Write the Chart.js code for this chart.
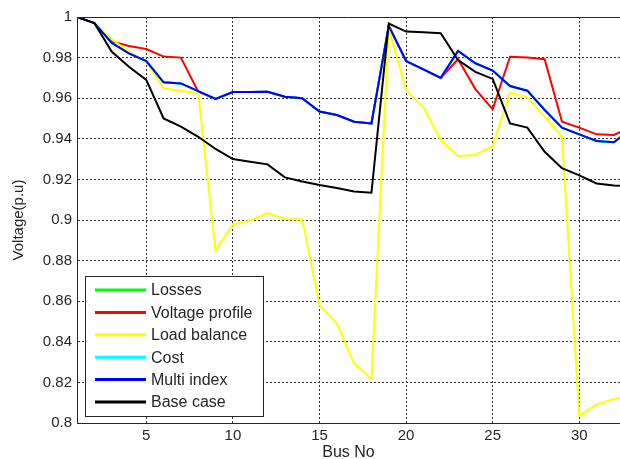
<!DOCTYPE html>
<html>
<head>
<meta charset="utf-8">
<script src="https://cdn.jsdelivr.net/npm/chart.js@4.4.1/dist/chart.umd.min.js"></script>
<style>
    html, body { margin: 0; padding: 0; background: #fff; overflow: hidden; }
    #wrap { width: 620px; height: 459px; position: relative; }
</style>
</head>
<body>
<div id="wrap"><canvas id="chart" width="620" height="459"></canvas></div>
<script>
// 母线编号 (33 bus system, last bus is cut at the right edge)
var buses = [1, 2, 3, 4, 5, 6, 7, 8, 9, 10, 11, 12, 13, 14, 15, 16, 17,
    18, 19, 20, 21, 22, 23, 24, 25, 26, 27, 28, 29, 30, 31, 32, 33];

// 各方案电压 (p.u)
var losses = [1.000, 0.997, 0.9873, 0.9821, 0.9783, 0.9678, 0.9673, 0.9635, 0.9596, 0.963, 0.963,
    0.9632, 0.9607, 0.960, 0.9534, 0.9517, 0.9484, 0.9476, 0.9956, 0.9783, 0.9742, 0.970,
    0.9833, 0.9772, 0.9736, 0.966, 0.9637, 0.9542, 0.9455, 0.9422, 0.9389, 0.9383, 0.945];
var voltageProfile = [1.000, 0.997, 0.988, 0.9857, 0.9842, 0.9805, 0.980, 0.9632, 0.9596, 0.963, 0.963,
    0.9632, 0.9607, 0.960, 0.9534, 0.9517, 0.9484, 0.9476, 0.9956, 0.9783, 0.9742, 0.970,
    0.9792, 0.9645, 0.9545, 0.9804, 0.980, 0.9792, 0.9484, 0.9455, 0.9422, 0.9419, 0.946];
var loadBalance = [1.000, 0.997, 0.989, 0.983, 0.978, 0.9649, 0.9637, 0.9624, 0.8849, 0.8979, 0.8997,
    0.9034, 0.9005, 0.9003, 0.8581, 0.8491, 0.8294, 0.8217, 0.9945, 0.964, 0.9555, 0.9394,
    0.9315, 0.932, 0.9365, 0.9627, 0.9603, 0.9509, 0.941, 0.8035, 0.8092, 0.8118, 0.8135];
var cost = [1.000, 0.997, 0.9873, 0.9821, 0.9783, 0.9678, 0.9673, 0.9635, 0.9596, 0.963, 0.963,
    0.9632, 0.9607, 0.960, 0.9534, 0.9517, 0.9484, 0.9476, 0.9956, 0.9783, 0.9742, 0.970,
    0.9833, 0.9772, 0.9736, 0.966, 0.9637, 0.9542, 0.9455, 0.9422, 0.9389, 0.9383, 0.945];
var multiIndex = [1.000, 0.997, 0.9873, 0.9821, 0.9783, 0.9678, 0.9673, 0.9635, 0.9596, 0.963, 0.963,
    0.9632, 0.9607, 0.960, 0.9534, 0.9517, 0.9484, 0.9476, 0.9956, 0.9783, 0.9742, 0.970,
    0.9833, 0.9772, 0.9736, 0.966, 0.9637, 0.9542, 0.9455, 0.9422, 0.9389, 0.9383, 0.945];
var baseCase = [1.000, 0.997, 0.983, 0.9755, 0.969, 0.950, 0.946, 0.941, 0.935, 0.930, 0.9287,
    0.9274, 0.921, 0.919, 0.9172, 0.9158, 0.914, 0.9134, 0.9968, 0.9928, 0.9925, 0.992,
    0.9788, 0.973, 0.9695, 0.9476, 0.9455, 0.9336, 0.9255, 0.922, 0.918, 0.917, 0.9165];

// 刻度
var xTicks = [5, 10, 15, 20, 25, 30];
var yTicks = [0.8, 0.82, 0.84, 0.86, 0.88, 0.9, 0.92, 0.94, 0.96, 0.98, 1];

var names = ['Losses', 'Voltage profile', 'Load balance', 'Cost', 'Multi index', 'Base case'];
var series = [losses, voltageProfile, loadBalance, cost, multiIndex, baseCase];
var colors = ['#00ff00', '#ff0000', '#ffff00', '#00ffff', '#0000ff', '#000000'];

var FONT = '"Liberation Sans", Arial, sans-serif';
var INK = '#262626';

function points(values) {
    var ret = [];
    for (var i = 0; i < values.length; i++) {
        ret.push({x: buses[i], y: values[i]});
    }
    return ret;
}

var datasets = [];
for (var i = 0; i < series.length; i++) {
    datasets.push({
        label: names[i],
        data: points(series[i]),
        borderColor: colors[i],
        backgroundColor: colors[i],
        borderWidth: 2,
        pointRadius: 0,
        tension: 0,
        order: series.length - i // 后画的在上面 (matlab style)
    });
}

// 坐标框 + 图例 (legend sits inside the axes, bottom left)
var boxPlugin = {
    id: 'boxPlugin',
    afterDatasetsDraw: function(chart) {
        var ctx = chart.ctx;
        var ca = chart.chartArea;
        ctx.save();
        ctx.strokeStyle = INK;
        ctx.lineWidth = 1;
        ctx.beginPath();
        ctx.moveTo(ca.left, ca.top + 0.5);
        ctx.lineTo(ca.right, ca.top + 0.5);
        ctx.stroke();

        // legend box
        var bx = ca.left + 8, bw = 178, bh = 140;
        var by = ca.bottom - 7 - bh;
        ctx.fillStyle = '#fff';
        ctx.fillRect(bx, by, bw, bh);
        ctx.strokeRect(bx + 0.5, by + 0.5, bw, bh);
        ctx.font = '16px ' + FONT;
        ctx.textBaseline = 'middle';
        for (var k = 0; k < names.length; k++) {
            var ry = by + 14 + k * 22.4;
            ctx.strokeStyle = colors[k];
            ctx.lineWidth = 3;
            ctx.beginPath();
            ctx.moveTo(bx + 10, ry);
            ctx.lineTo(bx + 61, ry);
            ctx.stroke();
            ctx.fillStyle = INK;
            ctx.fillText(names[k], bx + 66, ry + 1);
        }
        ctx.restore();
    }
};

var chart = new Chart(document.getElementById('chart'), {
    type: 'line',
    data: {datasets: datasets},
    plugins: [boxPlugin],
    options: {
        responsive: false,
        animation: false,
        events: [],
        layout: {padding: {top: 17, right: 0, bottom: 0, left: 0}},
        plugins: {legend: {display: false}, tooltip: {enabled: false}},
        scales: {
            x: {
                type: 'linear',
                min: 1,
                max: 32.35,
                afterBuildTicks: function(scale) {
                    scale.ticks = xTicks.map(function(v) { return {value: v}; });
                },
                afterFit: function(scale) { scale.height = 36; },
                border: {display: true, color: INK, width: 1, dash: [2, 2]},
                grid: {color: '#333', drawTicks: false, lineWidth: 1},
                ticks: {color: INK, font: {family: FONT, size: 15}, padding: 4, maxRotation: 0,
                    callback: function(v) { return v; }},
                title: {display: true, text: 'Bus No', color: INK, font: {family: FONT, size: 16},
                    padding: {top: 0, bottom: -3}}
            },
            y: {
                type: 'linear',
                min: 0.8,
                max: 1,
                afterBuildTicks: function(scale) {
                    scale.ticks = yTicks.map(function(v) { return {value: v}; });
                },
                afterFit: function(scale) { scale.width = 77; },
                border: {display: true, color: INK, width: 1, dash: [2, 2]},
                grid: {color: '#333', drawTicks: false, lineWidth: 1},
                ticks: {color: INK, font: {family: FONT, size: 15}, padding: 5,
                    callback: function(v) { return String(Math.round(v * 100) / 100); }},
                title: {display: true, text: 'Voltage(p.u)', color: INK, font: {family: FONT, size: 15},
                    padding: {top: 10, bottom: 0}}
            }
        }
    }
});
</script>
</body>
</html>
